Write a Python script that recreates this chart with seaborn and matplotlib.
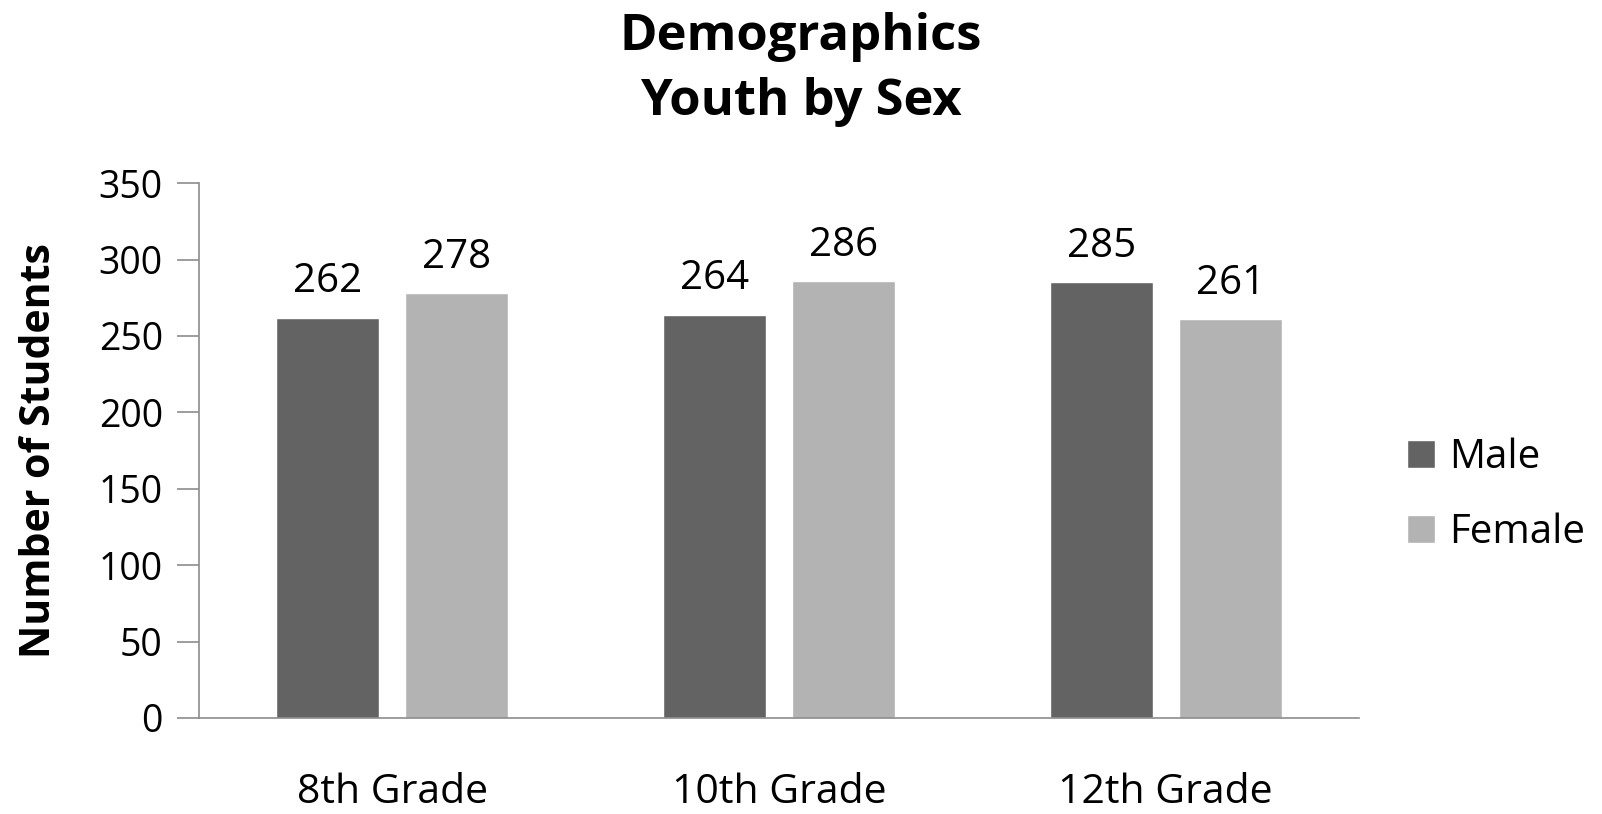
import pandas as pd
import matplotlib
matplotlib.use('Agg')
import matplotlib.pyplot as plt
import seaborn as sns

# chart data
grades = ['8th Grade', '10th Grade', '12th Grade']
male = [262, 264, 285]
female = [278, 286, 261]
sexes = ['Male', 'Female']

df = pd.DataFrame({
    'grade': grades * 2,
    'sex': ['Male'] * len(grades) + ['Female'] * len(grades),
    'students': male + female,
})

sns.set_style('white')
plt.rcParams['font.family'] = ['Open Sans', 'DejaVu Sans']
plt.rcParams['text.color'] = 'black'
plt.rcParams['axes.labelcolor'] = 'black'
plt.rcParams['xtick.color'] = 'black'
plt.rcParams['ytick.color'] = 'black'

fig = plt.figure(figsize=(16.02, 8.14), dpi=100)
ax = fig.add_axes([0.1242, 0.118, 0.7242, 0.657])

palette = {'Male': '#636363', 'Female': '#b3b3b3'}
sns.barplot(data=df, x='grade', y='students', hue='sex', hue_order=sexes,
            palette=palette, width=0.667, gap=0.2, saturation=1,
            ax=ax, legend=True)

for cont in ax.containers:
    ax.bar_label(cont, fmt='%d', padding=11, fontsize=29, color='black')

ax.set_ylim(0, 350)
ax.set_yticks(range(0, 351, 50))
ax.set_xlim(-0.5, 2.5)
ax.set_xlabel('')
ax.set_ylabel('Number of Students', fontsize=29.5, fontweight='bold', labelpad=28)

for s in ['top', 'right']:
    ax.spines[s].set_visible(False)
for s in ['left', 'bottom']:
    ax.spines[s].set_color('#8c8c8c')
    ax.spines[s].set_linewidth(1.2)

ax.tick_params(axis='y', which='both', left=True, length=16, width=1.2,
               color='#8c8c8c', labelcolor='black', labelsize=27, pad=10)
ax.tick_params(axis='x', bottom=False, labelcolor='black', labelsize=29.5, pad=36)

leg = ax.legend(loc='center left', bbox_to_anchor=(1.01, 0.416), frameon=False,
                fontsize=29, handlelength=0.7, handleheight=0.7,
                labelspacing=0.85, handletextpad=0.35)

fig.suptitle('Demographics\nYouth by Sex', fontsize=36.5, fontweight='bold',
             y=0.985, linespacing=1.4, color='black')

fig.savefig('out.png', dpi=100)
